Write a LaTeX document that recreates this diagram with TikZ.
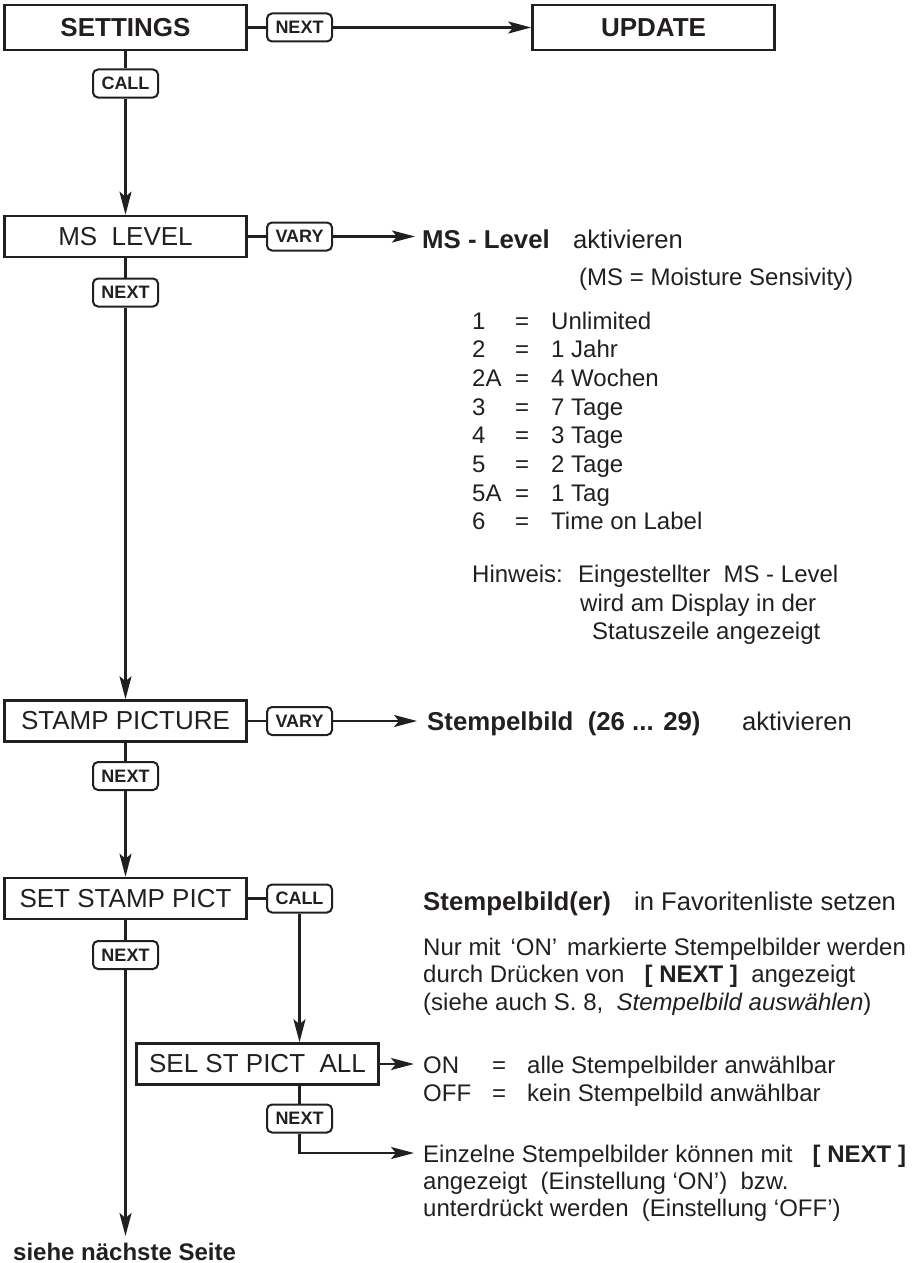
\documentclass[tikz,border=0pt]{standalone}
\usepackage{fontspec}
\setmainfont{Liberation Sans}
\usetikzlibrary{arrows.meta}
\definecolor{ink}{HTML}{231F20}

\begin{document}
\begin{tikzpicture}[x=1pt,y=-1pt,
  menubox/.style={draw=ink, line width=2.6pt, minimum width=242pt, minimum height=41pt,
    inner sep=0pt, text=ink, font=\fontsize{26}{30}\selectfont},
  topbox/.style={menubox, minimum height=45pt, font=\fontsize{26}{30}\selectfont\bfseries},
  keybtn/.style={draw=ink, line width=2pt, rounded corners=5pt, minimum width=65pt,
    minimum height=28pt, inner sep=0pt, text=ink, font=\fontsize{18}{20}\selectfont\bfseries},
  body/.style={inner sep=0pt, anchor=base west, text=ink, font=\fontsize{24}{28}\selectfont},
  head/.style={body, font=\fontsize{25.8}{30}\selectfont\bfseries},
  headtx/.style={body, font=\fontsize{25.6}{30}\selectfont},
  conn/.style={draw=ink, line width=2.4pt},
  arr/.style={conn, -{Stealth[length=23pt,width=12pt,inset=5pt]}},
]
\useasboundingbox (0,0) rectangle (921,1263);

% menu boxes and key buttons
\node[topbox] (settings) at (125.5,27.5) {SETTINGS};
\node[keybtn] (nx0) at (299.5,27.5) {NEXT};
\node[topbox] (update) at (653.5,27.5) {UPDATE};
\node[keybtn] (call0) at (125.5,83.5) {CALL};

\node[menubox] (mslevel) at (125.5,236.5) {MS\ \ LEVEL};
\node[keybtn] (vary1) at (299.5,236.5) {VARY};
\coordinate (t1) at (415,236.5);
\node[keybtn] (nx1) at (125.5,292.5) {NEXT};

\node[menubox] (stamp) at (125.5,721) {STAMP PICTURE};
\node[keybtn] (vary2) at (299.5,721) {VARY};
\coordinate (t2) at (417,721);
\node[keybtn] (nx2) at (125.5,776) {NEXT};

\node[menubox] (setstamp) at (125.5,898.5) {SET STAMP PICT};
\node[keybtn] (call1) at (299.5,898.5) {CALL};
\node[keybtn] (nx3) at (125.5,955) {NEXT};
\coordinate (t5) at (125.5,1236);

\node[menubox] (sel) at (257.5,1064) {SEL ST PICT\ \ ALL};
\coordinate (t3) at (414,1064);
\node[keybtn] (nx4) at (299.5,1118.5) {NEXT};
\coordinate (t4) at (414,1153);

% connectors
\draw[conn] (settings) -- (nx0);
\draw[arr] (nx0) -- (update);
\draw[conn] (settings) -- (call0);
\draw[arr] (call0) -- (mslevel);
\draw[conn] (mslevel) -- (vary1);
\draw[arr] (vary1) -- (t1);
\draw[conn] (mslevel) -- (nx1);
\draw[arr] (nx1) -- (stamp);
\draw[conn] (stamp) -- (vary2);
\draw[arr] (vary2) -- (t2);
\draw[conn] (stamp) -- (nx2);
\draw[arr] (nx2) -- (setstamp);
\draw[conn] (setstamp) -- (call1);
\draw[arr] (call1.south) -- (call1.south |- sel.north);
\draw[conn] (setstamp) -- (nx3);
\draw[arr] (nx3) -- (t5);
\draw[arr] (sel) -- (t3);
\draw[conn] (nx4.north |- sel.south) -- (nx4.north);
\draw[arr] (nx4.south) |- (t4);

% MS level description
\node[head] (mshead) at (422,248) {MS - Level};
\node[headtx] (akt1) at (573,248) {aktivieren};
\node[body] (msnote) at (579,285) {(MS = Moisture Sensivity)};
\foreach \n/\v [count=\i] in {1/Unlimited, 2/1 Jahr, 2A/4 Wochen, 3/7 Tage,
    4/3 Tage, 5/2 Tage, 5A/1 Tag, 6/Time on Label} {
  \node[body] (lvn\i) at (472,{329+28.7*(\i-1)}) {\n};
  \node[body] (lve\i) at (515,{329+28.7*(\i-1)}) {=};
  \node[body] (lvt\i) at (551,{329+28.7*(\i-1)}) {\v};
}
\node[body] (hint) at (472,582) {Hinweis:};
\node[body] (hint1) at (578,582) {Eingestellter\ \ MS - Level};
\node[body] (hint2) at (580,611) {wird am Display in der};
\node[body] (hint3) at (592,639) {Statuszeile angezeigt};

% stamp picture description
\node[head] (sthead) at (427,730) {Stempelbild\ \ (26 ... 29)};
\node[headtx] (akt2) at (742,730) {aktivieren};

% favourites description
\node[head] (favhead) at (423,910) {Stempelbild(er)};
\node[headtx] (fav) at (634,910) {in Favoritenliste setzen};
\node[body] (fav1) at (423,955) {Nur mit\hspace{10pt}‘ON’\hspace{10pt}markierte Stempelbilder werden};
\node[body] (fav2) at (423,982) {durch Drücken von\ \ \ \textbf{[ NEXT ]}\ \ angezeigt};
\node[body] (fav3) at (423,1010) {(siehe auch S. 8,\ \ \textit{Stempelbild auswählen})};

\node[body] (on) at (423,1073) {ON};
\node[body] (oneq) at (492,1073) {=};
\node[body] (ontx) at (527,1073) {alle Stempelbilder anwählbar};
\node[body] (off) at (423,1101) {OFF};
\node[body] (offeq) at (492,1101) {=};
\node[body] (offtx) at (527,1101) {kein Stempelbild anwählbar};

\node[body] (single1) at (423,1162) {Einzelne Stempelbilder können mit\ \ \ \textbf{[ NEXT ]}};
\node[body] (single2) at (423,1189) {angezeigt\ \ (Einstellung ‘ON’)\ \ bzw.};
\node[body] (single3) at (423,1216) {unterdrückt werden\ \ (Einstellung ‘OFF’)};

\node[head, font=\fontsize{24}{28}\selectfont\bfseries] (nextpage) at (13,1260) {siehe nächste Seite};
\end{tikzpicture}
\end{document}
